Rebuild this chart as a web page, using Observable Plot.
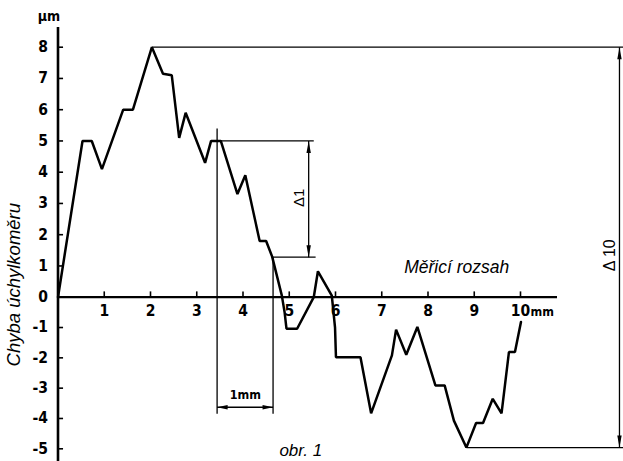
<!DOCTYPE html>
<html><head><meta charset="utf-8">
<script src="https://cdn.jsdelivr.net/npm/d3@7"></script>
<script src="https://cdn.jsdelivr.net/npm/@observablehq/plot@0.6"></script>
<style>body{margin:0;background:#fff}</style>
</head><body><div id="chart"></div>
<script>
// measured error curve (x in mm, y in µm)
const curveX = [0,0.53,0.73,0.95,1.41,1.62,2.03,2.27,2.46,2.62,2.76,3.18,3.31,3.52,3.88,4.05,4.36,4.50,4.63,4.84,4.90,4.94,5.17,5.53,5.62,5.92,5.99,6.01,6.54,6.77,7.22,7.31,7.53,7.77,8.16,8.36,8.56,8.83,9.04,9.19,9.40,9.59,9.75,9.88,10.01];
const curveY = [0,5.0,5.0,4.1,6.0,6.0,8.0,7.15,7.1,5.1,5.9,4.3,5.0,5.0,3.3,3.9,1.8,1.8,1.3,0.05,-0.5,-1.04,-1.04,0,0.83,0.05,-1.0,-1.98,-1.98,-3.83,-1.92,-1.07,-1.9,-0.98,-2.91,-2.91,-4.07,-4.96,-4.15,-4.15,-3.35,-3.83,-1.81,-1.81,-0.82];
const xTicks = [1,2,3,4,5,6,7,8,9,10];
const xTickLabels = ["1","2","3","4","5","6","7","8","9","10"];
const yTicks = [8,7,6,5,4,3,2,1,0,-1,-2,-3,-4,-5];
const yTickLabels = ["8","7","6","5","4","3","2","1","0","-1","-2","-3","-4","-5"];
// annotation geometry (data units)
const maxPt = {x:2.03, y:8.0};
const minPt = {x:8.83, y:-4.96};
const d10X = 12.14, rightEdge = 12.3;
const d1X = 5.42, d1Top = 5.0, d1Bot = 1.28, d1TopX = [3.44, 5.53], d1BotX = [4.63, 5.57];
const mmLeft = 3.44, mmRight = 4.65, mmLeftTop = 5.4, mmRightTop = 1.28, mmBottom = -3.84, mmLineY = -3.63;
const axisTop = 8.63, axisBottom = -5.45, axisRight = 10.8;

const curve = curveX.map((x,i)=>({x, y:curveY[i]}));
const xt = xTicks.map((x,i)=>({x, label:xTickLabels[i]}));
const yt = yTicks.map((y,i)=>({y, label:yTickLabels[i]}));

const tickFont = "'DejaVu Sans Condensed','Liberation Sans Narrow','Liberation Sans',sans-serif";
const labFont = "'Liberation Sans',Arial,sans-serif";

const hLines = [
  {x1:maxPt.x, x2:rightEdge, y:maxPt.y},
  {x1:minPt.x, x2:rightEdge, y:minPt.y},
  {x1:d1TopX[0], x2:d1TopX[1], y:d1Top},
  {x1:d1BotX[0], x2:d1BotX[1], y:d1Bot},
  {x1:mmLeft, x2:mmRight, y:mmLineY}
];
const vLines = [
  {x:d10X, y1:maxPt.y, y2:minPt.y},
  {x:d1X, y1:d1Top, y2:d1Bot},
  {x:mmLeft, y1:mmLeftTop, y2:mmBottom},
  {x:mmRight, y1:mmRightTop, y2:mmBottom}
];
const arrows = [
  {x:d10X, y:maxPt.y, rot:0, len:16},
  {x:d10X, y:minPt.y, rot:180, len:16},
  {x:d1X, y:d1Top, rot:0, len:16},
  {x:d1X, y:d1Bot, rot:180, len:16},
  {x:mmLeft, y:mmLineY, rot:-90, len:14},
  {x:mmRight, y:mmLineY, rot:90, len:14}
];

const plot = Plot.plot({
  width: 623, height: 461, margin: 0,
  x: {type:"linear", domain:[0,10], range:[57.5,520], axis:null},
  y: {type:"linear", domain:[-5,0,8], range:[448.3,296.7,46.7], axis:null},
  style: {background:"#fff", color:"#000"},
  marks: [
    // axes
    Plot.ruleX([0], {y1:axisTop, y2:axisBottom, stroke:"#000", strokeWidth:2.6}),
    Plot.ruleY([0], {x1:0, x2:axisRight, stroke:"#000", strokeWidth:2.2}),
    Plot.ruleX(xt, {x:"x", y1:0, y2:0.17, stroke:"#000", strokeWidth:1.6}),
    Plot.ruleY(yt, {y:"y", x1:0, x2:0.12, stroke:"#000", strokeWidth:1.6}),
    Plot.text(xt, {x:"x", y:0, text:"label", dy:14, fontFamily:tickFont, fontWeight:"bold", fontSize:15.5, fill:"#000"}),
    Plot.text(["mm"], {x:10, y:0, text:d=>d, dx:10, dy:15, textAnchor:"start", fontFamily:tickFont, fontWeight:"bold", fontSize:12.5, fill:"#000"}),
    Plot.text(yt, {x:0, y:"y", text:"label", dx:-10, textAnchor:"end", fontFamily:tickFont, fontWeight:"bold", fontSize:15.5, fill:"#000"}),
    Plot.text(["µm"], {x:0, y:axisTop, text:d=>d, dx:-9, dy:-11, fontFamily:tickFont, fontWeight:"bold", fontSize:14, fill:"#000"}),
    // annotation lines
    Plot.link(hLines, {x1:"x1", x2:"x2", y1:"y", y2:"y", stroke:"#000", strokeWidth:1.3}),
    Plot.link(vLines, {x1:"x", x2:"x", y1:"y1", y2:"y2", stroke:"#000", strokeWidth:1.3}),
    Plot.vector(arrows, {x:"x", y:"y", rotate:"rot", length:"len", shape:"spike", anchor:"end", r:2.2, fill:"#000", stroke:"none"}),
    // curve
    Plot.line(curve, {x:"x", y:"y", stroke:"#000", strokeWidth:2.5, strokeLinejoin:"miter"}),
    // labels
    Plot.text(["Δ1"], {x:5.21, y:3.18, text:d=>d, rotate:-90, fontFamily:labFont, fontSize:15, fill:"#000"}),
    Plot.text(["Δ 10"], {x:11.94, y:1.34, text:d=>d, rotate:-90, fontFamily:labFont, fontSize:16, fill:"#000"}),
    Plot.text(["1mm"], {x:4.05, y:-3.24, text:d=>d, fontFamily:tickFont, fontWeight:"bold", fontSize:12.5, fill:"#000"}),
    Plot.text(["Měřicí rozsah"], {x:8.62, y:0.95, text:d=>d, fontFamily:labFont, fontStyle:"italic", fontSize:17.5, fill:"#000"}),
    Plot.text(["Chyba úchylkoměru"], {x:-0.95, y:0.4, text:d=>d, rotate:-90, fontFamily:labFont, fontStyle:"italic", fontSize:18.5, fill:"#000"}),
    Plot.text(["obr. 1"], {x:5.25, y:-5.07, text:d=>d, fontFamily:labFont, fontStyle:"italic", fontSize:17, fill:"#000"})
  ]
});
document.getElementById("chart").appendChild(plot);
</script>
</body></html>
